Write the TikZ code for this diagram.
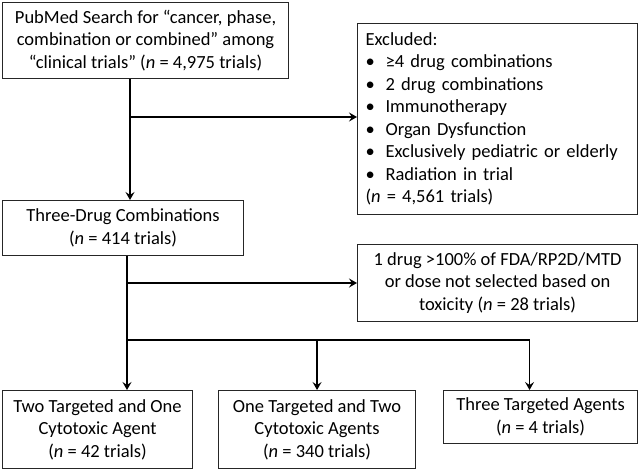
\documentclass[tikz,border=0pt]{standalone}
\usepackage{fontspec}
\setmainfont{Carlito}
\usetikzlibrary{arrows.meta,positioning}
\newcommand{\exitem}{\makebox[20pt][l]{\textbullet}}

\begin{document}
\begin{tikzpicture}[x=1pt,y=-1pt,
  box/.style={draw=black!85,line width=1.1pt,align=center,inner sep=0pt,anchor=north west,
              font=\fontsize{18.5}{22.5}\selectfont},
  arrow/.style={-{Stealth[length=8pt,width=9pt,inset=3pt]},line width=1.6pt}
]
\useasboundingbox (0,0) rectangle (638,469);
\node[box,minimum width=286pt,minimum height=76pt] (search) at (2,2)
  {PubMed Search for “cancer, phase,\\combination or combined” among\\“clinical trials” (\textit{n} = 4,975 trials)};
\node[box,align=left,text width=264pt,inner xsep=8pt,minimum height=191pt] (excl) at (357,23)
  {Excluded:\\
   \exitem ≥4 drug combinations\\
   \exitem 2 drug combinations\\
   \exitem Immunotherapy\\
   \exitem Organ Dysfunction\\
   \exitem Exclusively pediatric or elderly\\
   \exitem Radiation in trial\\
   (\textit{n} = 4,561 trials)};
\node[box,minimum width=241pt,minimum height=55pt] (combo) at (2,200)
  {Three-Drug Combinations\\(\textit{n} = 414 trials)};
\node[box,minimum width=280pt,minimum height=77pt] (dose) at (357,244)
  {1 drug >100\% of FDA/RP2D/MTD\\or dose not selected based on\\toxicity (\textit{n} = 28 trials)};
\node[box,minimum width=190pt,minimum height=78pt] (twotarg) at (2,390)
  {Two Targeted and One\\Cytotoxic Agent\\(\textit{n} = 42 trials)};
\node[box,minimum width=197pt,minimum height=78pt] (onetarg) at (218,390)
  {One Targeted and Two\\Cytotoxic Agents\\(\textit{n} = 340 trials)};
\node[box,minimum width=194pt,minimum height=53pt] (threetarg) at (443,390)
  {Three Targeted Agents\\(\textit{n} = 4 trials)};
% branch points
\coordinate (j1) at (130,117);
\coordinate (j2) at (127,283);
\coordinate (j3) at (127,340);
\draw[arrow] (search.south -| j1) -- (combo.north -| j1);
\draw[arrow] (j1) -- (j1 -| excl.west);
\draw[arrow] (combo.south -| j2) -- (twotarg.north -| j2);
\draw[arrow] (j2) -- (j2 -| dose.west);
\draw[arrow] (j3) -| (onetarg.north);
\draw[arrow] (j3) -| ([xshift=-11pt]threetarg.north);
\end{tikzpicture}
\end{document}
